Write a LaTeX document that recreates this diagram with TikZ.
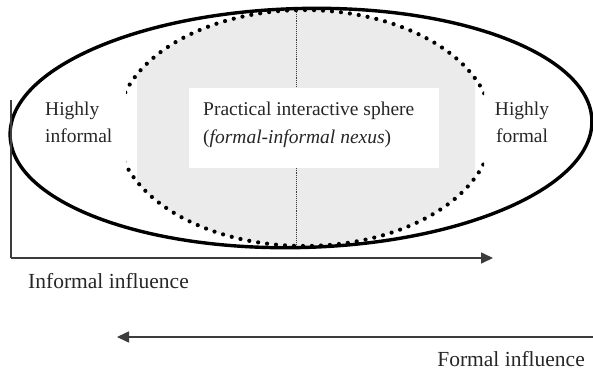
\documentclass[tikz,border=0pt]{standalone}
\usepackage{fontspec}
\setmainfont{Liberation Serif}
\usetikzlibrary{arrows.meta}
\definecolor{sphere}{RGB}{235,235,235}
\definecolor{axisgray}{RGB}{60,60,60}
\tikzset{
  outerring/.style={line width=3.4pt, black},
  dotring/.style={line width=4.2pt, line cap=round, dash pattern=on 0pt off 9pt, black},
  midline/.style={line width=0.9pt, densely dotted, axisgray},
  axisline/.style={line width=1.6pt, axisgray, -{Triangle[length=12pt,width=11pt]}},
  axisplain/.style={line width=1.6pt, axisgray},
  lbl/.style={inner sep=0pt, font=\fontsize{19.5}{25}\selectfont, text=black!85},
  biglbl/.style={inner sep=0pt, font=\fontsize{21.5}{26}\selectfont, text=black!85},
}
\begin{document}
\begin{tikzpicture}[x=1pt,y=-1pt]
\useasboundingbox (0,0) rectangle (593,370);
% gray fill of interactive sphere
\begin{scope}
  \clip (137,0) rectangle (475,370);
  \fill[sphere] (304.5,128) ellipse [x radius=188pt, y radius=118pt];
\end{scope}
% dotted boundary
\begin{scope}
  \clip (126,0) rectangle (484,370);
  \draw[dotring] (304.5,128) ellipse [x radius=188pt, y radius=118pt];
\end{scope}
% vertical dotted divider
\coordinate (divtop) at (296,10);
\coordinate (divbot) at (296,247);
\draw[midline] (divtop) -- (divbot);
% white central box
\node[fill=white, minimum width=250pt, minimum height=80pt, inner sep=0pt] (box) at (314,128) {};
\node[lbl, anchor=base west, align=left] (sphere) at (203,143)
  {Practical interactive sphere\\[3pt](\textit{formal-informal nexus})};
% outer ellipse
\draw[outerring, rotate around={1.5:(301,128)}] (301,128) ellipse [x radius=291pt, y radius=119.5pt];
% side labels
\node[lbl, anchor=base west, align=left] (hinf) at (45,142) {Highly\\[2pt]informal};
\node[lbl, anchor=base, align=center] (hfor) at (522,142) {Highly\\[2pt]formal};
% axes
\coordinate (axtop) at (11,100);
\coordinate (origin) at (11,258);
\coordinate (infend) at (493,258);
\draw[axisplain] (axtop) -- (origin);
\draw[axisline] (origin) -- (infend);
\node[biglbl, anchor=base west] (inflbl) at (28,288) {Informal influence};
\coordinate (forstart) at (593,337);
\coordinate (forend) at (117,337);
\draw[axisline] (forstart) -- (forend);
\node[biglbl, anchor=base east] (forlbl) at (585,366) {Formal influence};
\end{tikzpicture}
\end{document}
